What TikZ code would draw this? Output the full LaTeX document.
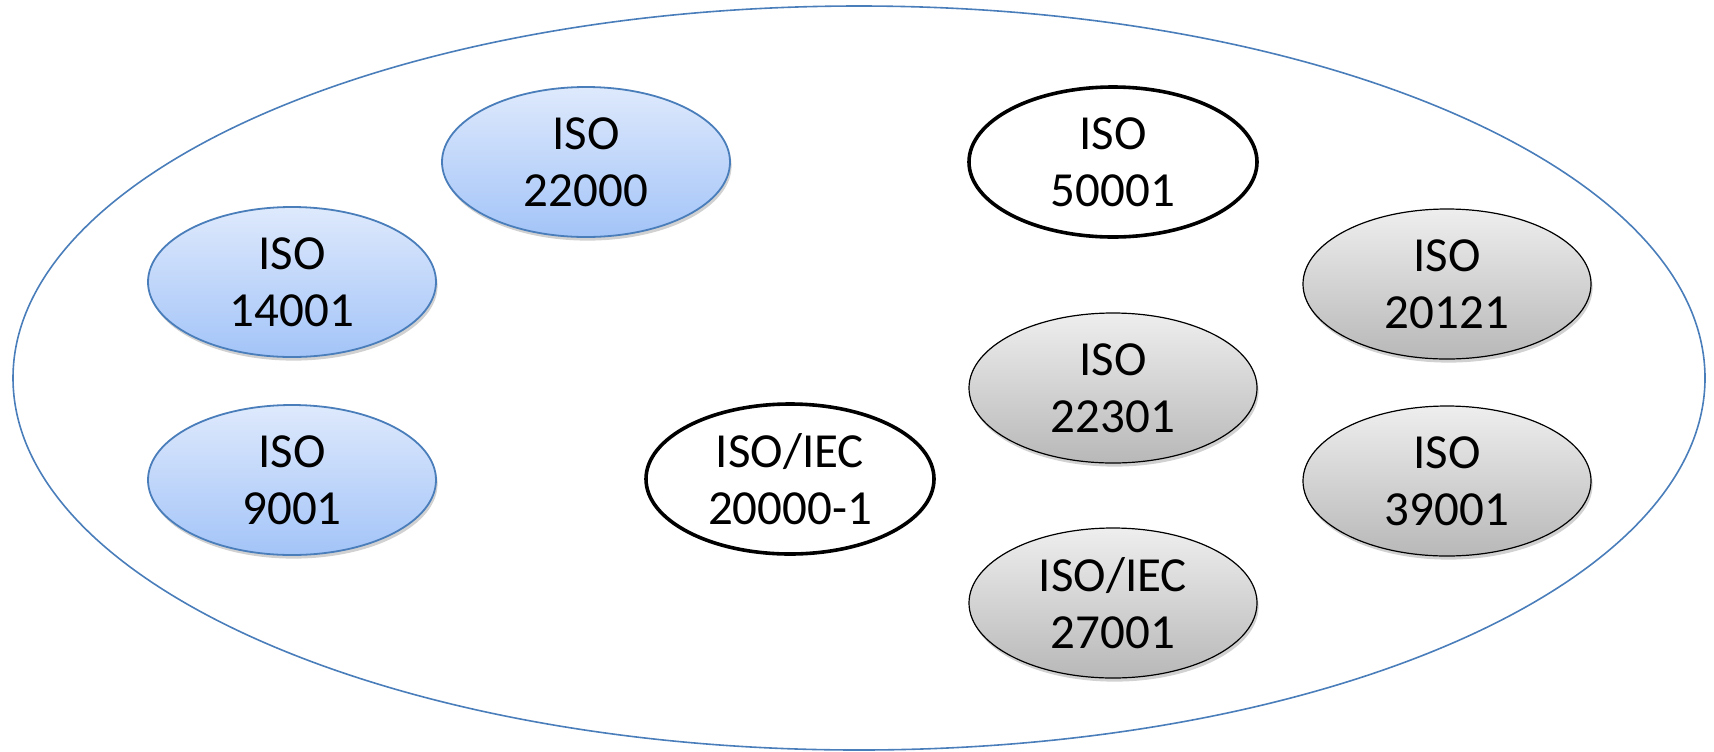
\documentclass[tikz,border=0pt]{standalone}
\usepackage{fontspec}
\setmainfont{Carlito}
\usetikzlibrary{shapes.geometric,shadows}
\definecolor{frameblue}{RGB}{74,126,187}
\definecolor{blueTop}{RGB}{222,233,252}
\definecolor{blueBot}{RGB}{163,196,248}
\definecolor{greyTop}{RGB}{238,238,238}
\definecolor{greyBot}{RGB}{184,184,184}
\tikzset{
  stdlabel/.style={ellipse, inner sep=0pt, minimum width=144pt, minimum height=75pt,
    align=center, font=\fontsize{24.5}{28.5}\selectfont},
  softshadow/.style={drop shadow={shadow xshift=0.8pt, shadow yshift=-1.8pt,
    fill=black, opacity=0.18}},
  bluestd/.style={stdlabel, draw=frameblue, line width=0.9pt,
    top color=blueTop, bottom color=blueBot, softshadow},
  greystd/.style={stdlabel, draw=black, line width=0.6pt,
    top color=greyTop, bottom color=greyBot, softshadow},
  boldstd/.style={stdlabel, draw=black, line width=1.8pt, fill=white},
  outerring/.style={ellipse, draw=frameblue, line width=0.8pt, inner sep=0pt}
}
\begin{document}
\begin{tikzpicture}[x=0.5pt,y=-0.5pt]
  \useasboundingbox (0,0) rectangle (1714,751);
  % enclosing boundary
  \node[outerring, minimum width=846pt, minimum height=372pt] (outer) at (859,378) {};
  % blue group
  \node[bluestd] (iso22000) at (586,162) {ISO\\22000};
  \node[bluestd] (iso14001) at (292,282) {ISO\\14001};
  \node[bluestd] (iso9001)  at (292,480) {ISO\\9001};
  % emphasised standards
  \node[boldstd] (iso20000) at (790,479) {ISO/IEC\\20000-1};
  \node[boldstd] (iso50001) at (1113,162) {ISO\\50001};
  % grey group
  \node[greystd] (iso20121) at (1447,284) {ISO\\20121};
  \node[greystd] (iso22301) at (1113,388) {ISO\\22301};
  \node[greystd] (iso39001) at (1447,481) {ISO\\39001};
  \node[greystd] (iso27001) at (1113,603) {ISO/IEC\\27001};
\end{tikzpicture}
\end{document}
